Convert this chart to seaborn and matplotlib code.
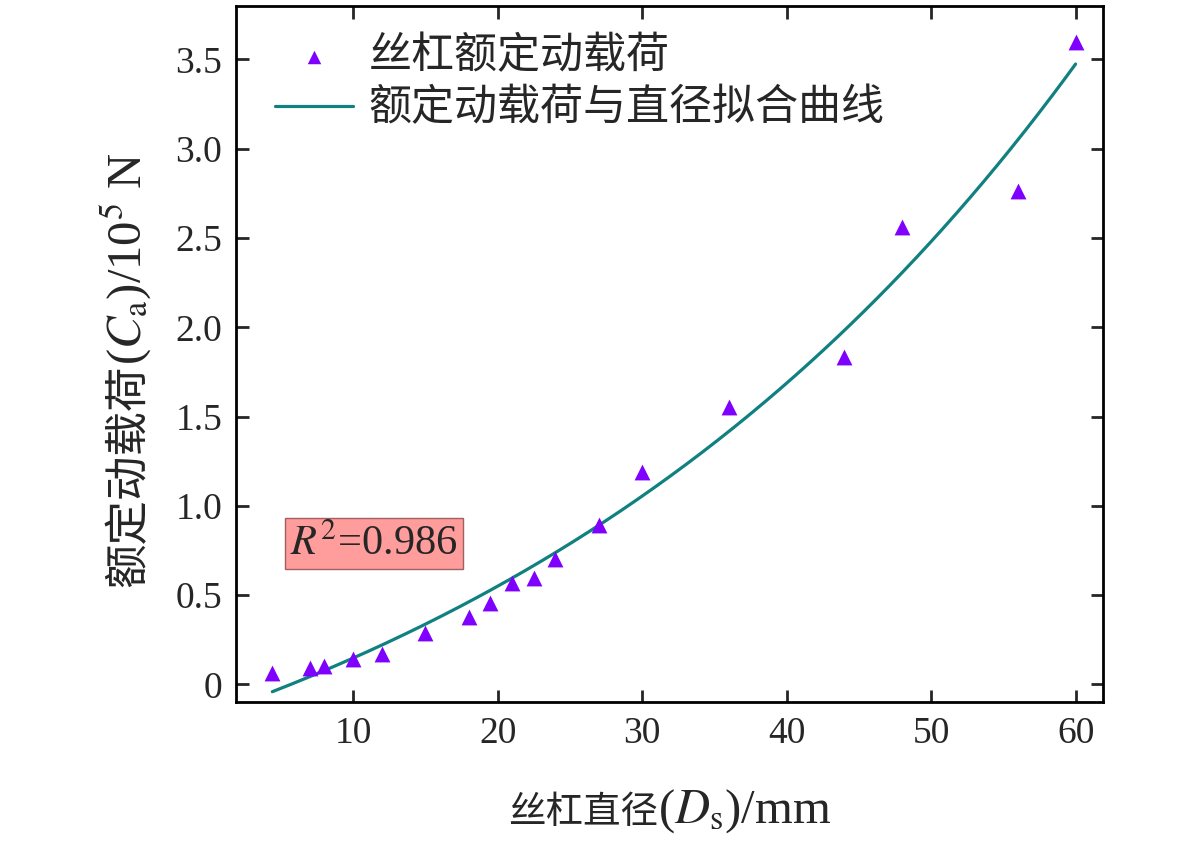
import matplotlib
matplotlib.use("Agg")
import matplotlib.pyplot as plt
import seaborn as sns
import numpy as np
import pandas as pd

# screw diameter (mm) and rated dynamic load (10^5 N)
diameter = [4.4, 7, 8, 10, 12, 15, 18, 19.5, 21, 22.5, 24, 27, 30, 36, 44, 48, 56, 60]
load = [0.065, 0.093, 0.102, 0.144, 0.168, 0.289, 0.379, 0.457, 0.565, 0.593,
        0.703, 0.89, 1.188, 1.554, 1.834, 2.561, 2.766, 3.60]
r2_text = r'$R^2$=0.986'
x_ticks = [10, 20, 30, 40, 50, 60]
y_ticks = [0, 0.5, 1.0, 1.5, 2.0, 2.5, 3.0, 3.5]

sns.set_theme(style='ticks')
plt.rcParams['font.family'] = ['Liberation Serif', 'Noto Sans CJK SC']
plt.rcParams['mathtext.fontset'] = 'stix'
plt.rcParams['axes.unicode_minus'] = False

df = pd.DataFrame({'d': diameter, 'c': load})

# exponential growth fit y = y0 + A*exp(k*x), least squares on the data
x = df['d'].to_numpy(float)
y = df['c'].to_numpy(float)
best = None
for k in np.linspace(0.001, 0.1, 4000):
    X = np.column_stack([np.ones_like(x), np.exp(k * x)])
    coef = np.linalg.lstsq(X, y, rcond=None)[0]
    sse = np.sum((X @ coef - y) ** 2)
    if best is None or sse < best[0]:
        best = (sse, k, coef)
_, k, coef = best
xs = np.linspace(x.min(), x.max(), 300)
fit = pd.DataFrame({'d': xs, 'c': coef[0] + coef[1] * np.exp(k * xs)})

W, H = 1181, 842
fig = plt.figure(figsize=(W / 100, H / 100), dpi=100)
ax = fig.add_axes([0.2, 0.166, 0.734, 0.827])

sns.scatterplot(data=df, x='d', y='c', marker='^', s=130, color='#8000FF',
                linewidth=0, label='丝杠额定动载荷', ax=ax, zorder=3)
sns.lineplot(data=fit, x='d', y='c', color='#108080', linewidth=2.3,
             label='额定动载荷与直径拟合曲线', ax=ax, zorder=2)

ax.set_xlim(1.9, 61.9)
ax.set_ylim(-0.1, 3.8)
ax.set_xticks(x_ticks)
ax.set_yticks(y_ticks)
ax.set_yticklabels(['0' if v == 0 else f'{v:.1f}' for v in y_ticks])
ax.tick_params(direction='in', length=9, width=2, labelsize=27,
               top=True, right=True, pad=10)
for s in ax.spines.values():
    s.set_linewidth(2)
    s.set_color('black')
ax.set_xlabel('')
ax.set_ylabel('')

ax.text(0.159, 0.228, r2_text, transform=ax.transAxes, fontsize=30.5,
        ha='center', va='center',
        bbox=dict(boxstyle='square,pad=0.13', facecolor='#FF9C9C',
                  edgecolor='#A06060', linewidth=1))

ax.legend(loc='upper left', bbox_to_anchor=(0.045, 0.955), frameon=False,
          fontsize=31, markerscale=0.85, handlelength=1.8,
          handletextpad=0.37, labelspacing=0.27, borderaxespad=0,
          borderpad=0)


# axis labels: Chinese part and math part drawn as chained pieces so that
# the CJK glyphs keep their font while the symbols use mathtext
def chain_label(pieces, center, base, rotation):
    texts = [fig.text(0, 0, s, fontsize=fs, rotation=rotation,
                      rotation_mode='anchor', ha='left', va='baseline')
             for s, fs in pieces]
    fig.canvas.draw()
    r = fig.canvas.get_renderer()
    if rotation == 90:
        sizes = [t.get_window_extent(r).height for t in texts]
    else:
        sizes = [t.get_window_extent(r).width for t in texts]
    pos = center - sum(sizes) / 2
    for t, sz in zip(texts, sizes):
        if rotation == 90:
            t.set_position((base / W, pos / H))
        else:
            t.set_position((pos / W, base / H))
        pos += sz


# x label: centred at x=670 px, baseline 823 px from top
chain_label([('丝杠直径', 27), (r'($D_\mathrm{s}$)/mm', 35)],
            center=670, base=H - 823, rotation=0)
# y label: centred at y=370 px from top, baseline at x=141 px
chain_label([('额定动载荷', 32), (r'($C_\mathrm{a}$)/10$^5$ N', 35)],
            center=H - 370, base=141, rotation=90)

fig.savefig('out.png', dpi=100)
